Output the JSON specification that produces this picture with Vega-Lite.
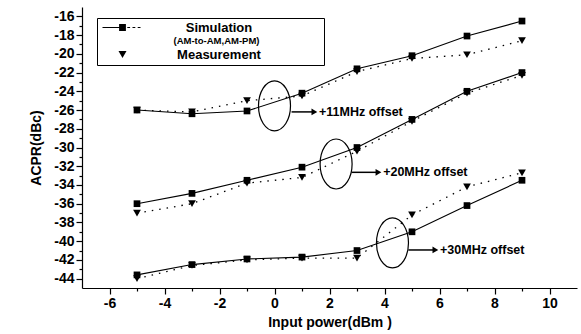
{
  "$schema": "https://vega.github.io/schema/vega-lite/v6.json",
  "width": 495,
  "height": 281,
  "autosize": {"type": "none"},
  "padding": {"left": 82, "top": 7, "right": 4, "bottom": 46},
  "background": "white",
  "config": {
    "view": {"stroke": null},
    "font": "Liberation Sans",
    "axis": {
      "grid": false,
      "domainColor": "black",
      "domainWidth": 1.2,
      "tickColor": "black",
      "tickWidth": 1.2,
      "labelFont": "Liberation Sans",
      "labelFontWeight": "bold",
      "labelFontSize": 14,
      "labelColor": "black",
      "titleFont": "Liberation Sans",
      "titleFontWeight": "bold",
      "titleFontSize": 14,
      "titleColor": "black"
    }
  },
  "resolve": {"axis": {"x": "independent", "y": "independent"}},
  "datasets": {
    "acpr": [
      {"offset": "11MHz", "type": "Simulation", "power": -5, "acpr": -26.0},
      {"offset": "11MHz", "type": "Simulation", "power": -3, "acpr": -26.4},
      {"offset": "11MHz", "type": "Simulation", "power": -1, "acpr": -26.1},
      {"offset": "11MHz", "type": "Simulation", "power": 1, "acpr": -24.2},
      {"offset": "11MHz", "type": "Simulation", "power": 3, "acpr": -21.6},
      {"offset": "11MHz", "type": "Simulation", "power": 5, "acpr": -20.2},
      {"offset": "11MHz", "type": "Simulation", "power": 7, "acpr": -18.1},
      {"offset": "11MHz", "type": "Simulation", "power": 9, "acpr": -16.5},
      {"offset": "20MHz", "type": "Simulation", "power": -5, "acpr": -36.0},
      {"offset": "20MHz", "type": "Simulation", "power": -3, "acpr": -34.9},
      {"offset": "20MHz", "type": "Simulation", "power": -1, "acpr": -33.5},
      {"offset": "20MHz", "type": "Simulation", "power": 1, "acpr": -32.1},
      {"offset": "20MHz", "type": "Simulation", "power": 3, "acpr": -30.0},
      {"offset": "20MHz", "type": "Simulation", "power": 5, "acpr": -27.0},
      {"offset": "20MHz", "type": "Simulation", "power": 7, "acpr": -24.0},
      {"offset": "20MHz", "type": "Simulation", "power": 9, "acpr": -22.0},
      {"offset": "30MHz", "type": "Simulation", "power": -5, "acpr": -43.6},
      {"offset": "30MHz", "type": "Simulation", "power": -3, "acpr": -42.5},
      {"offset": "30MHz", "type": "Simulation", "power": -1, "acpr": -41.9},
      {"offset": "30MHz", "type": "Simulation", "power": 1, "acpr": -41.7},
      {"offset": "30MHz", "type": "Simulation", "power": 3, "acpr": -41.0},
      {"offset": "30MHz", "type": "Simulation", "power": 5, "acpr": -39.0},
      {"offset": "30MHz", "type": "Simulation", "power": 7, "acpr": -36.2},
      {"offset": "30MHz", "type": "Simulation", "power": 9, "acpr": -33.5},
      {"offset": "11MHz", "type": "Measurement", "power": -5, "acpr": -26.0},
      {"offset": "11MHz", "type": "Measurement", "power": -3, "acpr": -26.2},
      {"offset": "11MHz", "type": "Measurement", "power": -1, "acpr": -25.0},
      {"offset": "11MHz", "type": "Measurement", "power": 1, "acpr": -24.5},
      {"offset": "11MHz", "type": "Measurement", "power": 3, "acpr": -21.9},
      {"offset": "11MHz", "type": "Measurement", "power": 5, "acpr": -20.5},
      {"offset": "11MHz", "type": "Measurement", "power": 7, "acpr": -20.1},
      {"offset": "11MHz", "type": "Measurement", "power": 9, "acpr": -18.6},
      {"offset": "20MHz", "type": "Measurement", "power": -5, "acpr": -37.0},
      {"offset": "20MHz", "type": "Measurement", "power": -3, "acpr": -36.0},
      {"offset": "20MHz", "type": "Measurement", "power": -1, "acpr": -33.8},
      {"offset": "20MHz", "type": "Measurement", "power": 1, "acpr": -33.2},
      {"offset": "20MHz", "type": "Measurement", "power": 3, "acpr": -30.4},
      {"offset": "20MHz", "type": "Measurement", "power": 5, "acpr": -27.2},
      {"offset": "20MHz", "type": "Measurement", "power": 7, "acpr": -24.2},
      {"offset": "20MHz", "type": "Measurement", "power": 9, "acpr": -22.3},
      {"offset": "30MHz", "type": "Measurement", "power": -5, "acpr": -44.0},
      {"offset": "30MHz", "type": "Measurement", "power": -3, "acpr": -42.6},
      {"offset": "30MHz", "type": "Measurement", "power": -1, "acpr": -42.0},
      {"offset": "30MHz", "type": "Measurement", "power": 1, "acpr": -41.8},
      {"offset": "30MHz", "type": "Measurement", "power": 3, "acpr": -41.8},
      {"offset": "30MHz", "type": "Measurement", "power": 5, "acpr": -37.2},
      {"offset": "30MHz", "type": "Measurement", "power": 7, "acpr": -34.2},
      {"offset": "30MHz", "type": "Measurement", "power": 9, "acpr": -32.7}
    ],
    "notes": [
      {"label": "+11MHz offset", "cx": 0.0, "cy": -25.55, "ax": 0.62, "tip": 1.45, "ay": -26.2, "tx": 1.62},
      {"label": "+20MHz offset", "cx": 2.24, "cy": -31.76, "ax": 2.8, "tip": 3.78, "ay": -32.65, "tx": 3.95},
      {"label": "+30MHz offset", "cx": 4.29, "cy": -40.19, "ax": 4.87, "tip": 5.85, "ay": -40.94, "tx": 6.02}
    ]
  },
  "layer": [
    {
      "data": {"name": "acpr"},
      "transform": [{"filter": "datum.type === 'Simulation'"}],
      "mark": {"type": "line", "color": "black", "strokeWidth": 1.1},
      "encoding": {
        "x": {
          "field": "power", "type": "quantitative",
          "scale": {"domain": [-7, 11], "nice": false, "zero": false},
          "axis": {
            "title": "Input power(dBm )",
            "orient": "bottom",
            "values": [-6, -4, -2, 0, 2, 4, 6, 8, 10],
            "labelExpr": "'' + datum.value",
            "labelOverlap": false,
            "tickSize": 6,
            "labelPadding": 2,
            "titlePadding": 5
          }
        },
        "y": {
          "field": "acpr", "type": "quantitative",
          "scale": {"domain": [-45, -15], "nice": false, "zero": false},
          "axis": {
            "title": "ACPR(dBc)",
            "orient": "left",
            "values": [-44, -42, -40, -38, -36, -34, -32, -30, -28, -26, -24, -22, -20, -18, -16],
            "labelExpr": "'' + datum.value",
            "labelOverlap": false,
            "tickSize": 6,
            "labelPadding": 2,
            "titlePadding": 10
          }
        },
        "detail": {"field": "offset"}
      }
    },
    {
      "data": {"name": "acpr"},
      "transform": [{"filter": "datum.type === 'Measurement'"}],
      "mark": {"type": "line", "color": "black", "strokeWidth": 1.3, "strokeDash": [1.5, 6]},
      "encoding": {
        "x": {"field": "power", "type": "quantitative", "axis": null},
        "y": {"field": "acpr", "type": "quantitative", "axis": null},
        "detail": {"field": "offset"}
      }
    },
    {
      "data": {"name": "acpr"},
      "transform": [{"filter": "datum.type === 'Simulation'"}],
      "mark": {"type": "point", "filled": true, "color": "black", "opacity": 1, "shape": "square", "size": 45},
      "encoding": {
        "x": {
          "field": "power", "type": "quantitative",
          "axis": {"title": null, "orient": "bottom", "values": [-5, -3, -1, 1, 3, 5, 7, 9], "labels": false, "domain": false, "tickSize": 3}
        },
        "y": {
          "field": "acpr", "type": "quantitative",
          "axis": {"title": null, "orient": "left", "values": [-43, -41, -39, -37, -35, -33, -31, -29, -27, -25, -23, -21, -19, -17], "labels": false, "domain": false, "tickSize": 3}
        }
      }
    },
    {
      "data": {"name": "acpr"},
      "transform": [{"filter": "datum.type === 'Measurement'"}],
      "mark": {"type": "point", "filled": true, "color": "black", "opacity": 1, "shape": "triangle-down", "size": 60},
      "encoding": {
        "x": {"field": "power", "type": "quantitative", "axis": null},
        "y": {"field": "acpr", "type": "quantitative", "axis": null}
      }
    },
    {
      "data": {"name": "acpr"},
      "mark": {"type": "point", "filled": true, "color": "black", "opacity": 0},
      "encoding": {
        "x": {"field": "power", "type": "quantitative", "axis": null},
        "y": {"field": "acpr", "type": "quantitative", "axis": null},
        "shape": {
          "field": "type", "type": "nominal",
          "scale": {"domain": ["Simulation", "Measurement"], "range": ["M-5,-0.15H-0.85V0.15H-5ZM-0.85,-0.85H0.85V0.85H-0.85ZM1.2,-0.12H1.9V0.12H1.2ZM2.5,-0.12H3.2V0.12H2.5ZM3.8,-0.12H4.5V0.12H3.8Z", "triangle-down"]},
          "legend": {
            "title": " ",
            "titleOrient": "right",
            "titlePadding": 60,
            "orient": "none",
            "legendX": 15,
            "legendY": 11,
            "strokeColor": "black",
            "padding": 3,
            "rowPadding": 13,
            "labelFont": "Liberation Sans",
            "labelFontWeight": "bold",
            "labelFontSize": 13,
            "labelColor": "black",
            "labelAlign": "center",
            "labelOffset": 90,
            "symbolOffset": 16,
            "symbolSize": 64,
            "symbolOpacity": 1,
            "symbolFillColor": "black",
            "symbolStrokeColor": "black",
            "symbolStrokeWidth": 1
          }
        }
      }
    },
    {
      "data": {"name": "acpr"},
      "mark": {"type": "point", "filled": true, "opacity": 0},
      "encoding": {
        "x": {"field": "power", "type": "quantitative", "axis": null},
        "y": {"field": "acpr", "type": "quantitative", "axis": null},
        "color": {
          "datum": "(AM-to-AM,AM-PM)", "type": "nominal",
          "scale": {"range": ["black"]},
          "legend": {
            "title": null,
            "orient": "none",
            "legendX": 80,
            "legendY": 29,
            "padding": 0,
            "symbolOpacity": 0,
            "symbolSize": 1,
            "labelOffset": 2,
            "labelFont": "Liberation Sans",
            "labelFontWeight": "bold",
            "labelFontSize": 9.5,
            "labelColor": "black"
          }
        }
      }
    },
    {
      "data": {"name": "notes"},
      "mark": {"type": "point", "filled": false, "color": "black", "strokeWidth": 1.2, "opacity": 1, "size": 2500, "shape": "M0,-1A0.64,1,0,1,1,0,1A0.64,1,0,1,1,0,-1Z"},
      "encoding": {
        "x": {"field": "cx", "type": "quantitative", "axis": null},
        "y": {"field": "cy", "type": "quantitative", "axis": null}
      }
    },
    {
      "data": {"name": "notes"},
      "mark": {"type": "rule", "color": "black", "strokeWidth": 1.5},
      "encoding": {
        "x": {"field": "ax", "type": "quantitative", "axis": null},
        "x2": {"field": "tip"},
        "y": {"field": "ay", "type": "quantitative", "axis": null}
      }
    },
    {
      "data": {"name": "notes"},
      "mark": {"type": "point", "filled": true, "color": "black", "opacity": 1, "shape": "triangle-right", "size": 45},
      "encoding": {
        "x": {"field": "tip", "type": "quantitative", "axis": null},
        "y": {"field": "ay", "type": "quantitative", "axis": null}
      }
    },
    {
      "data": {"name": "notes"},
      "mark": {"type": "text", "align": "left", "baseline": "middle", "font": "Liberation Sans", "fontWeight": "bold", "fontSize": 12.5, "color": "black"},
      "encoding": {
        "x": {"field": "tx", "type": "quantitative", "axis": null},
        "y": {"field": "ay", "type": "quantitative", "axis": null},
        "text": {"field": "label"}
      }
    }
  ]
}
